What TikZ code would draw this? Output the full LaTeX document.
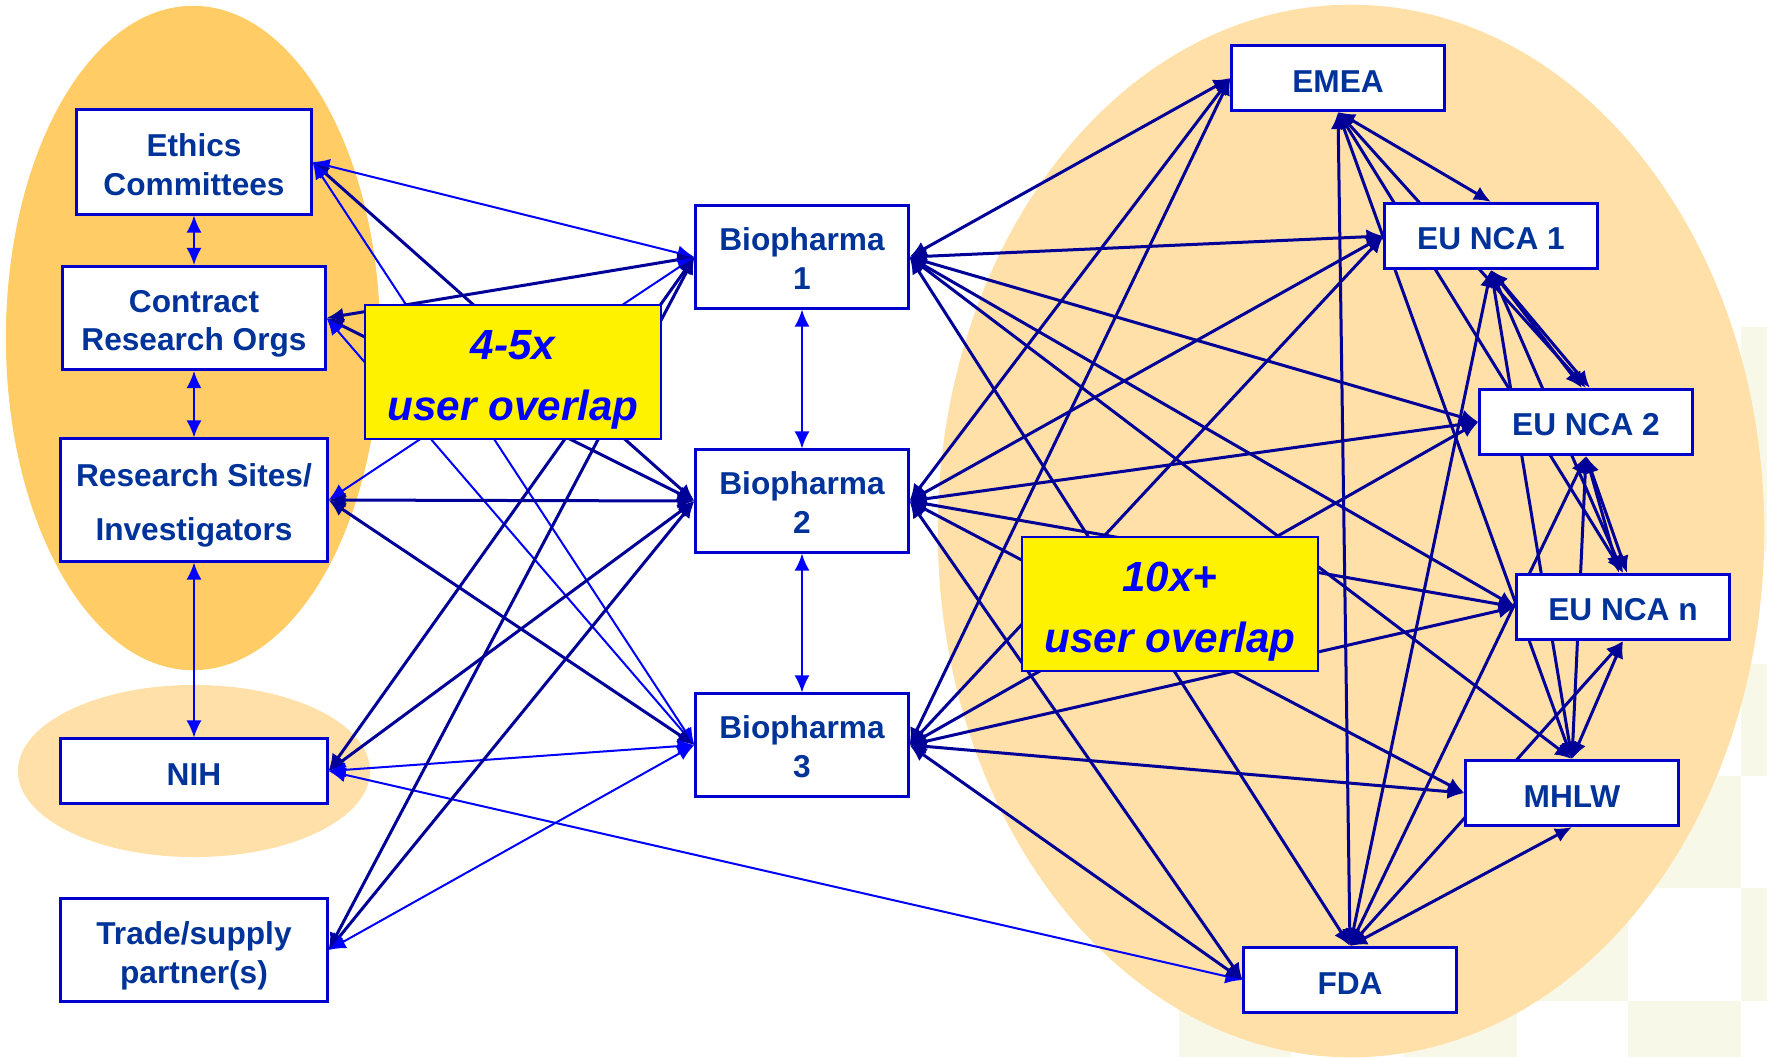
\documentclass[tikz,border=0pt]{standalone}
\usepackage{fontspec}
\setmainfont{Liberation Sans}
\usetikzlibrary{arrows.meta}

\definecolor{navy}{RGB}{0,0,153}
\definecolor{boxblue}{RGB}{0,0,204}
\definecolor{textblue}{RGB}{0,51,153}
\definecolor{deeporange}{RGB}{255,204,102}
\definecolor{paleorange}{RGB}{255,224,168}
\definecolor{checker}{RGB}{248,248,232}

\pgfdeclarelayer{bg}
\pgfdeclarelayer{links}
\pgfsetlayers{bg,links,main}

\tikzset{
  party/.style={draw=boxblue, line width=0.03cm, fill=white, text=textblue, inner sep=0pt,
    align=center, font=\fontsize{9}{11}\selectfont\bfseries,
    execute at begin node={\rule{0pt}{8pt}}},
  agency/.style={party, minimum width=2.12cm, minimum height=0.65cm},
  pharma/.style={party, minimum width=2.12cm, minimum height=1.02cm},
  overlap/.style={draw=boxblue, line width=0.02cm, fill=yellow, text=blue, inner sep=0pt,
    align=center, minimum width=2.95cm, minimum height=1.34cm,
    font=\fontsize{12}{17.3}\selectfont\bfseries\itshape},
  navylink/.style={navy, line width=0.03cm,
    {Latex[length=0.17cm,width=0.15cm]}-{Latex[length=0.17cm,width=0.15cm]}},
  bluelink/.style={blue, line width=0.02cm,
    {Latex[length=0.17cm,width=0.15cm]}-{Latex[length=0.17cm,width=0.15cm]}}
}

\begin{document}
\begin{tikzpicture}[x=0.01cm, y=-0.01cm]
\useasboundingbox (0,0) rectangle (1767,1057);

% users
\node[party, minimum width=2.34cm, minimum height=1.04cm] (ethics) at (194,162) {\rule{0pt}{8.2pt}Ethics\\Committees};
\node[party, minimum width=2.62cm, minimum height=1.03cm] (contract) at (194,318) {\rule{0pt}{9.5pt}Contract\\Research Orgs};
\node[party, minimum width=2.66cm, minimum height=1.22cm] (research) at (194,500) {\rule{0pt}{9.5pt}Research Sites/\\[4.5pt]Investigators};
\node[party, minimum width=2.66cm, minimum height=0.64cm] (nih) at (194,771) {NIH};
\node[party, minimum width=2.66cm, minimum height=1.03cm] (trade) at (194,950) {\rule{0pt}{10pt}Trade/supply\\partner(s)};

\node[pharma] (bio1) at (802,257) {\rule{0pt}{7.5pt}Biopharma\\1};
\node[pharma] (bio2) at (802,501) {\rule{0pt}{7.5pt}Biopharma\\2};
\node[pharma] (bio3) at (802,745) {\rule{0pt}{7.5pt}Biopharma\\3};

% regulators
\node[agency] (emea) at (1338,78) {EMEA};
\node[agency] (nca1) at (1491,236) {EU NCA 1};
\node[agency] (nca2) at (1586,422) {EU NCA 2};
\node[agency] (ncan) at (1623,607) {EU NCA n};
\node[agency] (mhlw) at (1572,793) {MHLW};
\node[agency] (fda) at (1350,980) {FDA};

\node[overlap] (fewer) at (513,372) {\rule{0pt}{12.5pt}4-5x\\user overlap};
\node[overlap] (more) at (1170,604) {\rule{0pt}{12.5pt}10x+\\user overlap};

\begin{pgfonlayer}{bg}
  \foreach \x/\y/\u/\v in {1741/327/1767/551, 1741/664/1767/776, 1628/776/1741/888, 1517/888/1628/1001,
    1741/888/1767/1001, 1628/1001/1741/1057, 1403/1001/1517/1057, 1179/1001/1291/1057}
    \fill[checker] (\x,\y) rectangle (\u,\v);
  \fill[deeporange] (193,338) ellipse [x radius=1.87cm, y radius=3.32cm];
  \fill[paleorange] (194,771) ellipse [x radius=1.76cm, y radius=0.86cm];
  \fill[paleorange] (1351,531) ellipse [x radius=4.13cm, y radius=5.26cm];
\end{pgfonlayer}

\begin{pgfonlayer}{links}
  \foreach \a/\b in {ethics/contract, contract/research, research/nih, bio1/bio2, bio2/bio3}
    \draw[bluelink] (\a) -- (\b);
  \foreach \a/\b/\s in {ethics/bio1/bluelink, ethics/bio2/navylink, ethics/bio3/bluelink,
      contract/bio1/navylink, contract/bio2/navylink, contract/bio3/bluelink,
      research/bio1/bluelink, research/bio2/navylink, research/bio3/navylink,
      nih/bio1/navylink, nih/bio2/navylink, nih/bio3/bluelink, nih/fda/bluelink,
      trade/bio1/navylink, trade/bio2/navylink, trade/bio3/bluelink}
    \draw[\s] (\a.east) -- (\b.west);
  \foreach \b in {bio1,bio2,bio3}
    \foreach \r in {emea,nca1,nca2,ncan}
      \draw[navylink] (\b.east) -- (\r.west);
  \draw[navylink] (bio1.east) -- (mhlw.north);
  \draw[navylink] (bio1.east) -- (fda.north);
  \foreach \b in {bio2,bio3}
    \foreach \r in {mhlw,fda}
      \draw[navylink] (\b.east) -- (\r.west);
  \foreach \a/\b in {emea/nca1, emea/nca2, emea/ncan, emea/mhlw, emea/fda,
      nca1/ncan, nca1/mhlw, nca1/fda, nca2/mhlw, nca2/fda, ncan/mhlw, ncan/fda, mhlw/fda}
    \draw[navylink] (\a.south) -- (\b.north);
  \foreach \a/\b in {nca1/nca2, nca2/ncan}{
    \draw[navylink] (\a.south) -- ([xshift=-0.04cm]\b.north);
    \draw[navylink] (\a.south) -- ([xshift=0.04cm]\b.north);
  }
\end{pgfonlayer}
\end{tikzpicture}
\end{document}
